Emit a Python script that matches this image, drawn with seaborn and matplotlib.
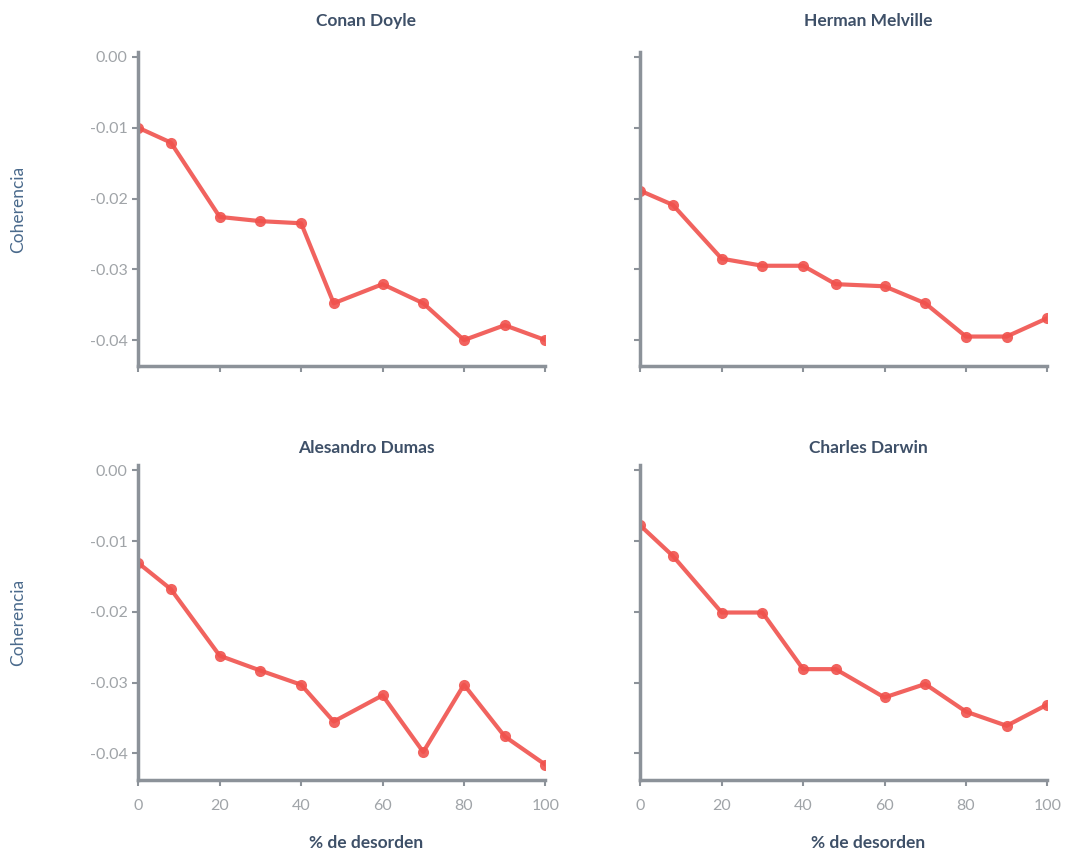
from matplotlib import pyplot as plt
import numpy as np
import pandas as pd
import seaborn as sns

disorder = [0, 8, 20, 30, 40, 48, 60, 70, 80, 90, 100]
authors = ["Conan Doyle", "Herman Melville", "Alesandro Dumas", "Charles Darwin"]
conan_doyle = [-0.0100, -0.0121, -0.0226, -0.0232, -0.0235, -0.0348, -0.0321, -0.0348, -0.0400, -0.0379, -0.0400]
herman_melville = [-0.0189, -0.0209, -0.0285, -0.0295, -0.0295, -0.0321, -0.0324, -0.0348, -0.0395, -0.0395, -0.0369]
alesandro_dumas = [-0.0131, -0.0168, -0.0262, -0.0283, -0.0303, -0.0355, -0.0318, -0.0398, -0.0303, -0.0376, -0.0416]
charles_darwin = [-0.0078, -0.0121, -0.0201, -0.0201, -0.0281, -0.0281, -0.0321, -0.0302, -0.0341, -0.0361, -0.0331]
y_ticks = [0.00, -0.01, -0.02, -0.03, -0.04]
x_ticks = [0, 20, 40, 60, 80, 100]

series = [conan_doyle, herman_melville, alesandro_dumas, charles_darwin]
df = pd.concat(
    [pd.DataFrame({"autor": a, "desorden": disorder, "coherencia": s}) for a, s in zip(authors, series)],
    ignore_index=True,
)

sns.set_style("white")
plt.rcParams["font.family"] = ["Lato", "DejaVu Sans"]

red = "#f0524d"
title_col = "#3e5068"
tick_col = "#a0a4a8"
spine_col = "#8c9299"

fig, axes = plt.subplots(2, 2, figsize=(10.72, 8.52), dpi=100, sharex=True, sharey=True)
plt.subplots_adjust(left=0.129, right=0.977, bottom=0.085, top=0.939, wspace=0.233, hspace=0.315)

for i, (ax, author) in enumerate(zip(axes.flat, authors)):
    sub = df[df["autor"] == author]
    sns.lineplot(data=sub, x="desorden", y="coherencia", ax=ax, color=red, linewidth=3,
                 marker="o", markersize=8, markeredgewidth=0, alpha=0.9)
    ax.set_title(author, color=title_col, fontsize=12.5, fontweight="bold", x=0.56,
                 pad=19 if i < 2 else 9)
    ax.set_xlim(0, 100)
    ax.set_ylim(-0.0437, 0.0007)
    ax.set_xticks(x_ticks)
    ax.set_yticks(y_ticks)
    ax.set_yticklabels([f"{t:.2f}" for t in y_ticks])
    ax.tick_params(colors=spine_col, labelcolor=tick_col, labelsize=11.5, length=4, width=1.5,
                   direction="out", left=True, bottom=True)
    ax.tick_params(axis="x", pad=10)
    for s in ["left", "bottom"]:
        ax.spines[s].set_color(spine_col)
        ax.spines[s].set_linewidth(2.5)
    sns.despine(ax=ax)
    ax.set_xlabel("")
    ax.set_ylabel("")

for ax in axes[:, 0]:
    ax.set_ylabel("Coherencia", color="#4a6a8c", fontsize=12.5)
    ax.yaxis.set_label_coords(-0.275, 0.5)
for ax in axes[1, :]:
    ax.set_xlabel("% de desorden", color=title_col, fontsize=12.5, fontweight="bold")
    ax.xaxis.set_label_coords(0.56, -0.175)
for ax in axes[0, :]:
    ax.tick_params(labelbottom=False)
for ax in axes[:, 1]:
    ax.tick_params(labelleft=False)

plt.savefig("out.png", dpi=100)
